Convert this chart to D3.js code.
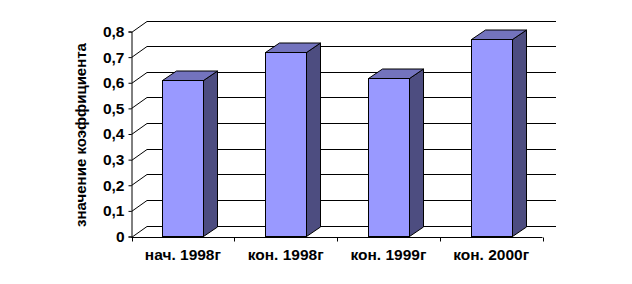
<!DOCTYPE html>
<html>
<head>
<meta charset="utf-8">
<script src="https://cdn.jsdelivr.net/npm/d3@7"></script>
<style>
  body { margin: 0; background: #fff; }
  text { font-family: Arial, "Liberation Sans", sans-serif; font-weight: bold; }
</style>
</head>
<body>
<script>
const categories = ["нач. 1998г", "кон. 1998г", "кон. 1999г", "кон. 2000г"];
const values = [0.61, 0.72, 0.62, 0.77];
const yTicks = [0, 0.1, 0.2, 0.3, 0.4, 0.5, 0.6, 0.7, 0.8];
const yTitle = "значение коэффициента";

const W = 632, H = 284;
const plotLeft = 131.5, plotRight = 542.5, plotBottom = 236.5, plotTop = 31.5;
const wallDx = 15.5, wallDy = -11;   // depth of the back wall
const barDx = 14, barDy = -9.5;      // depth of a bar

const svg = d3.select("body").append("svg")
  .attr("width", W).attr("height", H);

const x = d3.scaleBand().domain(categories).range([plotLeft, plotRight]);
const y = d3.scaleLinear().domain([0, 0.8]).range([plotBottom, plotTop]);
const ruFmt = d3.formatLocale({decimal: ",", thousands: " ", grouping: [3], currency: ["", ""]}).format("~g");

// back wall grid lines
const grid = svg.append("g").attr("stroke", "#000").attr("stroke-width", 1).attr("fill", "none");
yTicks.forEach(v => {
  const yy = Math.round(y(v)) + 0.5;
  grid.append("path")
    .attr("d", `M${plotLeft},${yy}L${plotLeft + wallDx},${yy + wallDy}L${plotRight + wallDx - 2},${yy + wallDy}`);
});

// bars
const bw = x.bandwidth() * 0.4;
const bars = svg.append("g").selectAll("g").data(values).join("g");
bars.each(function(v, i) {
  const g = d3.select(this);
  const x0 = Math.round(x(categories[i]) + (x.bandwidth() - bw) / 2) + 0.5;
  const x1 = x0 + Math.round(bw);
  const y0 = Math.round(y(v)) + 0.5;
  const yb = Math.round(y(0)) - 0.5;
  // side
  g.append("path")
    .attr("d", `M${x1},${yb}L${x1 + barDx},${yb + barDy}L${x1 + barDx},${y0 + barDy}L${x1},${y0}Z`)
    .attr("fill", "#4d4d80").attr("stroke", "#000");
  // top
  g.append("path")
    .attr("d", `M${x0},${y0}L${x0 + barDx},${y0 + barDy}L${x1 + barDx},${y0 + barDy}L${x1},${y0}Z`)
    .attr("fill", "#7373bd").attr("stroke", "#000");
  // front
  g.append("rect")
    .attr("x", x0).attr("y", y0).attr("width", x1 - x0).attr("height", yb - y0)
    .attr("fill", "#9999ff").attr("stroke", "#000");
});

// y axis
const yAxis = svg.append("g")
  .attr("transform", `translate(${plotLeft},0)`)
  .call(d3.axisLeft(y).tickValues(yTicks).tickSize(3).tickPadding(4).tickFormat(ruFmt));
yAxis.selectAll("path, line").attr("stroke", "#000");
yAxis.selectAll("text").attr("font-size", 15.5).attr("font-family", null).attr("fill", "#000");

// x axis
const xAxis = svg.append("g")
  .attr("transform", `translate(0,${Math.round(plotBottom) + 0.5})`)
  .call(d3.axisBottom(x).tickSize(0).tickPadding(11));
xAxis.select(".domain").attr("stroke", "#000").attr("d", `M${plotLeft},0H${plotRight}`);
xAxis.selectAll("text").attr("font-size", 15.5).attr("font-family", null).attr("fill", "#000");
xAxis.selectAll(".sep").data(categories.concat([null])).join("line")
  .attr("class", "sep")
  .attr("x1", (d, i) => Math.round(plotLeft + i * x.step()) + 0.5)
  .attr("x2", (d, i) => Math.round(plotLeft + i * x.step()) + 0.5)
  .attr("y1", 0).attr("y2", 4).attr("stroke", "#000");

// axis title
svg.append("text")
  .attr("transform", `translate(86,135) rotate(-90)`)
  .attr("text-anchor", "middle")
  .attr("font-size", 15)
  .text(yTitle);
</script>
</body>
</html>
